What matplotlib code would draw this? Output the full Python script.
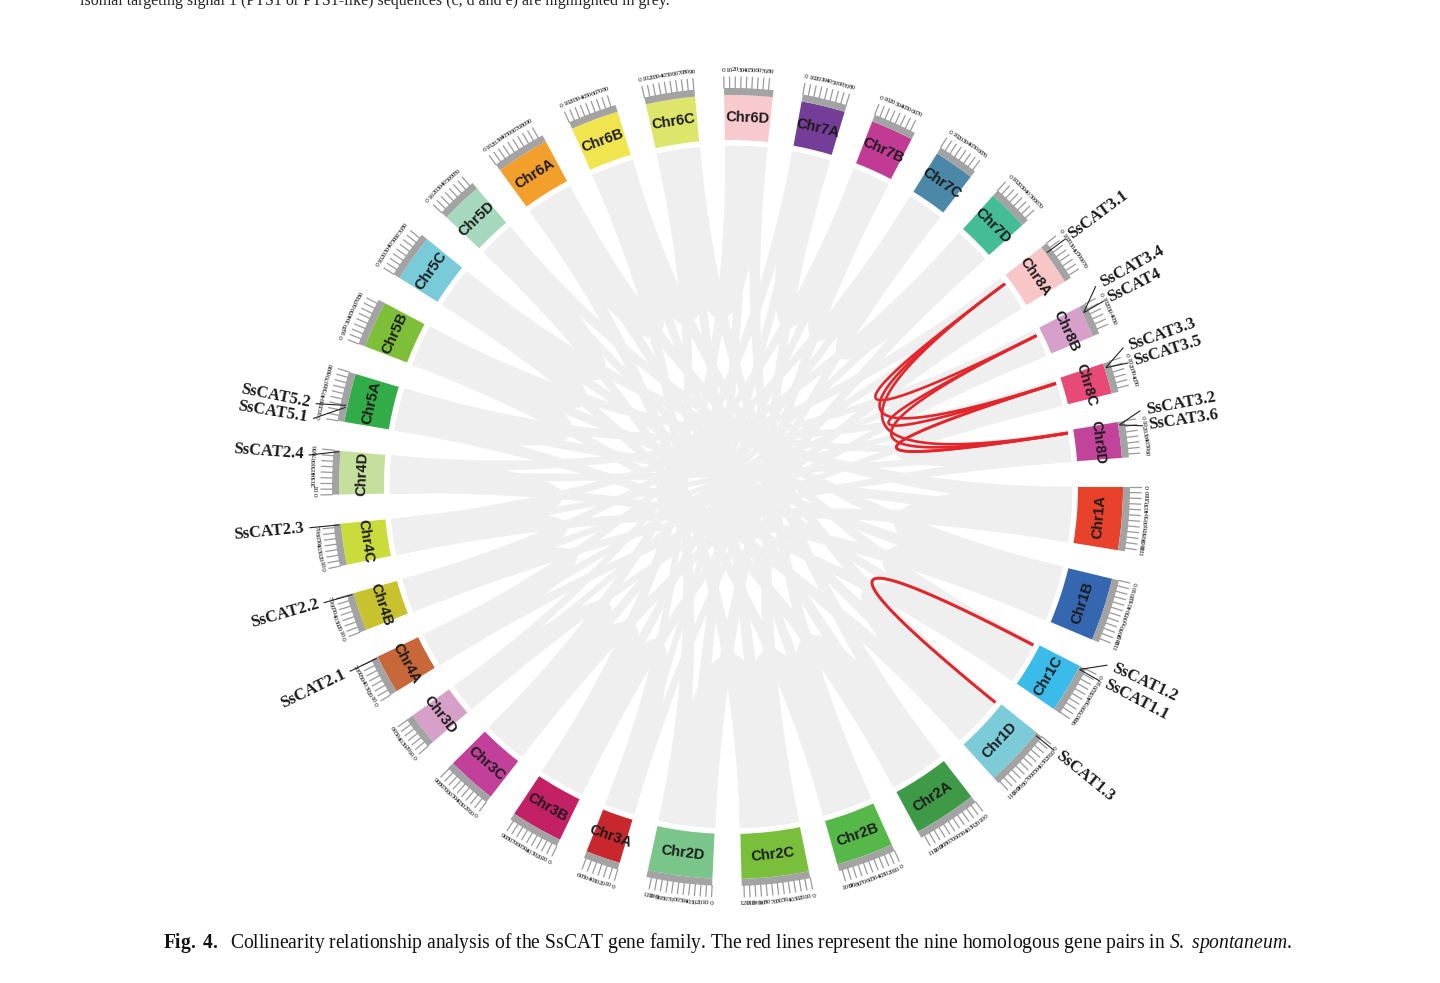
import numpy as np
import matplotlib
matplotlib.use("Agg")
import matplotlib.pyplot as plt
from matplotlib.patches import Wedge, Polygon

# ---------------- data ----------------
chrom_names = ["Chr1A", "Chr1B", "Chr1C", "Chr1D", "Chr2A", "Chr2B", "Chr2C", "Chr2D",
               "Chr3A", "Chr3B", "Chr3C", "Chr3D", "Chr4A", "Chr4B", "Chr4C", "Chr4D",
               "Chr5A", "Chr5B", "Chr5C", "Chr5D", "Chr6A", "Chr6B", "Chr6C", "Chr6D",
               "Chr7A", "Chr7B", "Chr7C", "Chr7D", "Chr8A", "Chr8B", "Chr8C", "Chr8D"]
chrom_lengths_mb = [116, 117, 92, 114, 117, 106, 124, 119,
                    64, 96, 92, 61, 72, 71, 76, 80,
                    90, 87, 87, 77, 99, 89, 91, 89,
                    81, 79, 75, 76, 76, 59, 57, 66]
chrom_colors = ["#e8412c", "#3566b0", "#3bbbe9", "#7ccbd8", "#3f9a47", "#55b848", "#79bf3b", "#79c58a",
                "#c8282d", "#c42066", "#c2409a", "#d7a0c9", "#c8673a", "#c7c22d", "#cadc3c", "#c5e09c",
                "#32ac48", "#7ebf3a", "#79cbd9", "#a5d8bd", "#f2a02b", "#f1e54f", "#dde66a", "#f8c9cd",
                "#743d97", "#c13b95", "#4b88a8", "#44bd96", "#f9c6c8", "#d7a0cb", "#e84a78", "#c2449a"]

gene_names = ["SsCAT3.1", "SsCAT3.4", "SsCAT4", "SsCAT3.3", "SsCAT3.5", "SsCAT3.2", "SsCAT3.6",
              "SsCAT1.2", "SsCAT1.1", "SsCAT1.3", "SsCAT2.1", "SsCAT2.2", "SsCAT2.3", "SsCAT2.4",
              "SsCAT5.2", "SsCAT5.1"]
gene_chroms = ["Chr8A", "Chr8B", "Chr8B", "Chr8C", "Chr8C", "Chr8D", "Chr8D",
               "Chr1C", "Chr1C", "Chr1D", "Chr4A", "Chr4B", "Chr4C", "Chr4D",
               "Chr5A", "Chr5A"]
gene_pos_mb = [14, 12, 13, 8, 9, 5, 6, 5, 6, 5, 70, 69, 74, 78, 30, 26]

# homologous SsCAT gene pairs (red)
red_gene_a = ["SsCAT3.1", "SsCAT3.1", "SsCAT3.1", "SsCAT3.4", "SsCAT4", "SsCAT3.3", "SsCAT3.5", "SsCAT1.2", "SsCAT1.1"]
red_gene_b = ["SsCAT3.4", "SsCAT3.3", "SsCAT3.2", "SsCAT3.6", "SsCAT3.5", "SsCAT3.2", "SsCAT3.6", "SsCAT1.3", "SsCAT1.3"]

# genome-wide collinear blocks (grey): chromosome A [start,end] <-> chromosome B [start,end] (Mb)
link_chr_a = ["Chr1A", "Chr1B", "Chr1C", "Chr1D", "Chr2A", "Chr2B", "Chr2C", "Chr2D",
              "Chr3A", "Chr3B", "Chr3C", "Chr3D", "Chr4A", "Chr4B", "Chr4C", "Chr4D",
              "Chr1A", "Chr1B", "Chr1C", "Chr1D", "Chr2A", "Chr2B", "Chr2C", "Chr2D",
              "Chr3A", "Chr3B", "Chr3C", "Chr3D", "Chr4A", "Chr4B", "Chr4C", "Chr4D",
              "Chr5A", "Chr5B", "Chr5C", "Chr5D", "Chr6A", "Chr6B", "Chr6C", "Chr6D",
              "Chr7A", "Chr7B", "Chr7C", "Chr7D", "Chr8A", "Chr8B", "Chr8C", "Chr8D",
              "Chr1A", "Chr1B", "Chr1C", "Chr2A", "Chr2B", "Chr2C", "Chr3A", "Chr3B", "Chr3C",
              "Chr4A", "Chr4B", "Chr4C", "Chr5A", "Chr5B", "Chr5C", "Chr6A", "Chr6B", "Chr6C",
              "Chr7A", "Chr7B", "Chr7C", "Chr8A", "Chr8B", "Chr8C"]
link_a_mb = [(41, 75), (41, 76), (32, 60), (40, 74), (41, 76), (37, 69), (43, 81), (42, 77),
             (22, 42), (34, 62), (32, 60), (21, 40), (25, 47), (25, 46), (27, 49), (28, 52),
             (75, 116), (76, 117), (60, 92), (74, 114), (76, 117), (69, 106), (81, 124), (77, 119),
             (42, 64), (62, 96), (60, 92), (40, 61), (47, 72), (46, 71), (49, 76), (52, 80),
             (58, 90), (57, 87), (57, 87), (50, 77), (64, 99), (58, 89), (59, 91), (58, 89),
             (53, 81), (51, 79), (49, 75), (49, 76), (49, 76), (38, 59), (37, 57), (43, 66),
             (0, 116), (0, 117), (0, 92), (0, 117), (0, 106), (0, 124), (0, 64), (0, 96), (0, 92),
             (0, 72), (0, 71), (0, 76), (0, 90), (0, 87), (0, 87), (0, 99), (0, 89), (0, 91),
             (0, 81), (0, 79), (0, 75), (0, 76), (0, 59), (0, 57)]
link_chr_b = ["Chr5A", "Chr5B", "Chr5C", "Chr5D", "Chr6A", "Chr6B", "Chr6C", "Chr6D",
              "Chr7A", "Chr7B", "Chr7C", "Chr7D", "Chr8A", "Chr8B", "Chr8C", "Chr8D",
              "Chr4C", "Chr4D", "Chr5A", "Chr5B", "Chr5C", "Chr5D", "Chr6A", "Chr6B",
              "Chr6C", "Chr6D", "Chr7A", "Chr7B", "Chr7C", "Chr7D", "Chr8A", "Chr8B",
              "Chr8C", "Chr8D", "Chr1A", "Chr1B", "Chr1C", "Chr1D", "Chr2A", "Chr2B",
              "Chr2C", "Chr2D", "Chr3A", "Chr3B", "Chr3C", "Chr3D", "Chr4A", "Chr4B",
              "Chr1B", "Chr1C", "Chr1D", "Chr2B", "Chr2C", "Chr2D", "Chr3B", "Chr3C", "Chr3D",
              "Chr4B", "Chr4C", "Chr4D", "Chr5B", "Chr5C", "Chr5D", "Chr6B", "Chr6C", "Chr6D",
              "Chr7B", "Chr7C", "Chr7D", "Chr8B", "Chr8C", "Chr8D"]
link_b_mb = [(31, 58), (30, 57), (30, 57), (27, 50), (35, 64), (31, 58), (32, 59), (31, 58),
             (28, 53), (28, 51), (26, 49), (27, 49), (27, 49), (21, 38), (20, 37), (23, 43),
             (0, 27), (0, 28), (0, 31), (0, 30), (0, 30), (0, 27), (0, 35), (0, 31),
             (0, 32), (0, 31), (0, 28), (0, 28), (0, 26), (0, 27), (0, 27), (0, 21),
             (0, 20), (0, 23), (0, 41), (0, 41), (0, 32), (0, 40), (0, 41), (0, 37),
             (0, 43), (0, 42), (0, 22), (0, 34), (0, 32), (0, 21), (0, 25), (0, 25),
             (0, 117), (0, 92), (0, 114), (0, 106), (0, 124), (0, 119), (0, 96), (0, 92), (0, 61),
             (0, 71), (0, 76), (0, 80), (0, 87), (0, 87), (0, 77), (0, 89), (0, 91), (0, 89),
             (0, 79), (0, 75), (0, 76), (0, 59), (0, 57), (0, 66)]

tick_step_mb = 10
top_text = "isomal targeting signal 1 (PTS1 or PTS1-like) sequences (c, d and e) are highlighted in grey."
caption = (r"$\bf{Fig.\ 4.}$  Collinearity relationship analysis of the SsCAT gene family. "
           r"The red lines represent the nine homologous gene pairs in $\it{S.\ spontaneum}$.")

# ---------------- layout ----------------
W, H = 1440, 983
CX, CY = 731, 487
DEG_PER_MB = 0.08
R_LINK, R_IN, R_OUT, R_BAND, R_TICK, R_TLAB = 341, 347, 392, 399, 410, 417
GREY = "#efefef"
label_shift_deg = [0, 2.4, 0.2, 1.8, -0.3, 1.4, -0.6, 2.2, -0.1, 0, 0, 0, 0, 0.8, 0.6, 2.3]

plt.rcParams['mathtext.fontset'] = 'custom'
plt.rcParams['mathtext.rm'] = 'Liberation Serif'
plt.rcParams['mathtext.it'] = 'Liberation Serif:italic'
plt.rcParams['mathtext.bf'] = 'Liberation Serif:bold'

fig = plt.figure(figsize=(W / 100, H / 100), dpi=100)
fig.patch.set_facecolor("white")
ax = fig.add_axes([0, 0, 1, 1])
ax.set_xlim(-CX, W - CX)
ax.set_ylim(-(H - CY), CY)
ax.axis("off")

n = len(chrom_names)
span_total = sum(chrom_lengths_mb) * DEG_PER_MB
gap = (360.0 - span_total) / n
starts = []
a = 0.0
for L in chrom_lengths_mb:
    starts.append(a)
    a -= L * DEG_PER_MB + gap
idx = {c: i for i, c in enumerate(chrom_names)}


def ang(chrom, pos):
    return starts[idx[chrom]] - pos * DEG_PER_MB


def pol(r, deg):
    t = np.deg2rad(np.atleast_1d(deg))
    return np.column_stack([r * np.cos(t), r * np.sin(t)])


def bez(p0, p2, k=80):
    t = np.linspace(0, 1, k)[:, None]
    return (1 - t) ** 2 * p0 + t ** 2 * p2


def tang_rot(deg):
    d = deg % 360
    return d - 90 if 0 < d < 180 else d + 90


# grey ribbons
for ca, (sa, ea), cb, (sb, eb) in zip(link_chr_a, link_a_mb, link_chr_b, link_b_mb):
    arcA = pol(R_LINK, np.linspace(ang(ca, sa), ang(ca, ea), 30))
    arcB = pol(R_LINK, np.linspace(ang(cb, sb), ang(cb, eb), 30))
    verts = np.vstack([arcA, bez(arcA[-1], arcB[0]), arcB, bez(arcB[-1], arcA[0])])
    ax.add_patch(Polygon(verts, closed=True, facecolor=GREY, edgecolor=GREY, lw=0.3, zorder=1))

# red links
gidx = {g: i for i, g in enumerate(gene_names)}
for ga, gb in zip(red_gene_a, red_gene_b):
    ia, ib = gidx[ga], gidx[gb]
    p0 = pol(R_LINK, ang(gene_chroms[ia], gene_pos_mb[ia]))[0]
    p2 = pol(R_LINK, ang(gene_chroms[ib], gene_pos_mb[ib]))[0]
    c = bez(p0, p2, 120)
    ax.plot(c[:, 0], c[:, 1], color="#e3262b", lw=1.9, zorder=3, solid_capstyle="butt")

# chromosome blocks, bands, ticks, labels
for name, L, col in zip(chrom_names, chrom_lengths_mb, chrom_colors):
    a0 = ang(name, 0)
    a1 = ang(name, L)
    ax.add_patch(Wedge((0, 0), R_OUT, a1, a0, width=R_OUT - R_IN, facecolor=col, edgecolor="none", zorder=2))
    ax.add_patch(Wedge((0, 0), R_BAND, a1, a0, width=R_BAND - R_OUT, facecolor="#a3a3a3", edgecolor="none", zorder=2))
    mid = (a0 + a1) / 2
    p = pol((R_IN + R_OUT) / 2, mid)[0]
    ax.text(p[0], p[1], name, rotation=tang_rot(mid), rotation_mode="anchor", ha="center", va="center",
            fontsize=10.5, family="Liberation Sans", weight="bold", color="#1a1a1a", zorder=4)
    for t in range(0, L + 1, tick_step_mb):
        at = ang(name, t)
        seg = np.vstack([pol(R_BAND, at), pol(R_TICK, at)])
        ax.plot(seg[:, 0], seg[:, 1], color="#9a9a9a", lw=0.9, zorder=2)
        q = pol(R_TLAB, at)[0]
        ax.text(q[0], q[1], str(t), rotation=tang_rot(at), rotation_mode="anchor", ha="center", va="center",
                fontsize=5.4, family="Liberation Serif", color="#111111", zorder=4)

# gene labels
for g, c, pos, sh in zip(gene_names, gene_chroms, gene_pos_mb, label_shift_deg):
    ag = ang(c, pos)
    al = ag + sh
    d = al % 360
    left = 90 < d < 270
    r_lab = 429 if left else 422
    line = np.vstack([pol(R_OUT + 2, ag), pol(r_lab - 6, al)])
    ax.plot(line[:, 0], line[:, 1], color="#222222", lw=0.8, zorder=4)
    q = pol(r_lab, al)[0]
    if left:
        rot, ha = d - 180, "right"
    else:
        rot, ha = d, "left"
    ax.text(q[0], q[1], g, rotation=rot, rotation_mode="anchor", ha=ha, va="center",
            fontsize=12, family="Liberation Serif", weight="bold", color="#1a1a1a", zorder=4)

# captions
ax.text(80 - CX, CY - 5, top_text, ha="left", va="baseline", fontsize=11.5,
        family="Liberation Serif", color="#222222", clip_on=False)
cap = ax.text(163 - CX, CY - 943, caption, ha="left", va="center", fontsize=12,
              family="Liberation Serif", color="#111111")
fig.canvas.draw()
w = cap.get_window_extent(fig.canvas.get_renderer()).width
cap.set_fontsize(12 * 1130 / w)

fig.savefig("out.png", dpi=100, facecolor="white")
